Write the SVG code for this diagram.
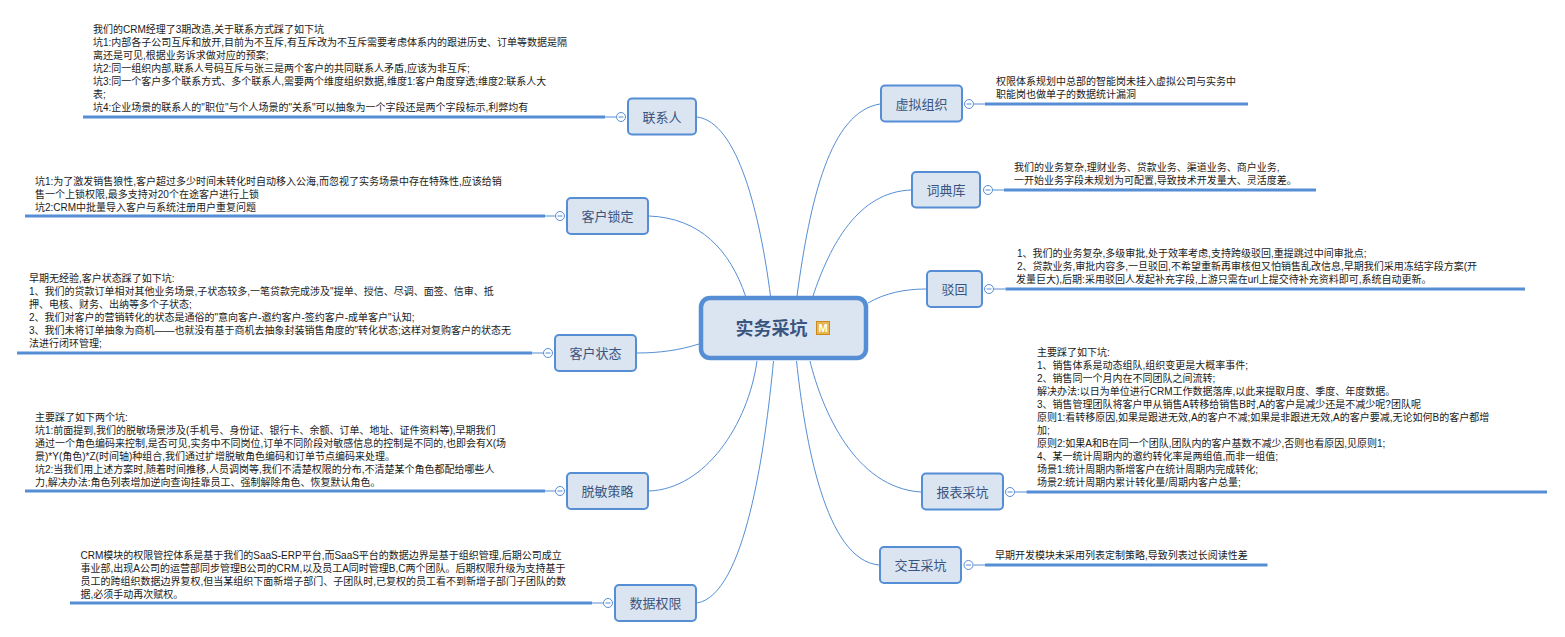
<svg xmlns="http://www.w3.org/2000/svg" width="1565" height="637" viewBox="0 0 1565 637">
<style>
.n{fill:#dbe5f1;stroke:#558ed5;stroke-width:2}
.nt{font:13px "Liberation Sans","Noto Sans CJK SC",sans-serif;fill:#3a5480;text-anchor:middle}
.d{font:10px "Liberation Sans","Noto Sans CJK SC",sans-serif;fill:#1a1a1a}
.c{fill:none;stroke:#558ed5;stroke-width:1}
.b{fill:none;stroke:#558ed5;stroke-width:3}
.o{fill:#fff;stroke:#558ed5;stroke-width:1}
.m{fill:none;stroke:#558ed5;stroke-width:1}
</style>
<rect width="1565" height="637" fill="#fff"/>
<g id="connectors">
<path class="c" d="M770.500,296C760,215 738,122 697,117"/>
<path class="c" d="M745.500,296C730,250 700,218 649,216"/>
<path class="c" d="M797,296C810,200 830,112 880,104"/>
<path class="c" d="M813,296C830,245 858,192 911,190"/>
<path class="c" d="M868,303C885,293 905,289 926,289"/>
<path class="c" d="M699,344C680,350 660,353 637,353"/>
<path class="c" d="M757,361C748,425 705,489 649,491"/>
<path class="c" d="M773.500,361C765,450 745,595 697,603"/>
<path class="c" d="M810,361C822,410 855,488 921,492"/>
<path class="c" d="M796.500,361C805,440 825,560 879,565"/>
</g>
<g id="center"><rect x="701" y="298" width="165" height="60" rx="9" fill="#dbe5f1" stroke="#558ed5" stroke-width="4.500"/>
<text x="771.500" y="335" font-family="Liberation Sans,Noto Sans CJK SC,sans-serif" font-size="18" font-weight="bold" fill="#3a5480" text-anchor="middle">实务采坑</text>
<rect x="816.500" y="321.500" width="13" height="13" fill="#eab64e" stroke="#c98a20"/>
<text x="823" y="332" font-family="Liberation Sans,sans-serif" font-size="11" font-weight="bold" fill="#fff" text-anchor="middle">M</text></g>
<g id="lianxiren"><path class="b" d="M83,117H605"/><path class="m" d="M605,117H616"/><circle class="o" cx="621" cy="117" r="4.500"/><path class="m" d="M618.500,117H623.500"/>
<rect class="n" x="628" y="98.500" width="68" height="36" rx="4"/><text class="nt" x="662" y="122">联系人</text>
<text class="d"><tspan x="93" y="33">我们的CRM经理了3期改造,关于联系方式踩了如下坑</tspan><tspan x="93" y="46">坑1:内部各子公司互斥和放开,目前为不互斥,有互斥改为不互斥需要考虑体系内的跟进历史、订单等数据是隔</tspan><tspan x="93" y="59">离还是可见,根据业务诉求做对应的预案;</tspan><tspan x="93" y="72">坑2:同一组织内部,联系人号码互斥与张三是两个客户的共同联系人矛盾,应该为非互斥;</tspan><tspan x="93" y="85">坑3:同一个客户多个联系方式、多个联系人,需要两个维度组织数据,维度1:客户角度穿透;维度2:联系人大</tspan><tspan x="93" y="98">表;</tspan><tspan x="93" y="111">坑4:企业场景的联系人的"职位"与个人场景的"关系"可以抽象为一个字段还是两个字段标示,利弊均有</tspan></text></g>
<g id="suoding"><path class="b" d="M25,216H545"/><path class="m" d="M545,216H555"/><circle class="o" cx="560" cy="216" r="4.500"/><path class="m" d="M557.500,216H562.500"/>
<rect class="n" x="567" y="198" width="81" height="36" rx="4"/><text class="nt" x="607.500" y="221">客户锁定</text>
<text class="d"><tspan x="35" y="184.500">坑1:为了激发销售狼性,客户超过多少时间未转化时自动移入公海,而忽视了实务场景中存在特殊性,应该给销</tspan><tspan x="35" y="197.500">售一个上锁权限,最多支持对20个在途客户进行上锁</tspan><tspan x="35" y="210.500">坑2:CRM中批量导入客户与系统注册用户重复问题</tspan></text></g>
<g id="zhuangtai"><path class="b" d="M17,353H532"/><path class="m" d="M532,353H543"/><circle class="o" cx="548" cy="353" r="4.500"/><path class="m" d="M545.500,353H550.500"/>
<rect class="n" x="555" y="335" width="81" height="36" rx="4"/><text class="nt" x="595.500" y="358">客户状态</text>
<text class="d"><tspan x="29" y="281.500">早期无经验,客户状态踩了如下坑:</tspan><tspan x="29" y="294.500">1、我们的贷款订单相对其他业务场景,子状态较多,一笔贷款完成涉及"提单、授信、尽调、面签、信审、抵</tspan><tspan x="29" y="307.500">押、电核、财务、出纳等多个子状态;</tspan><tspan x="29" y="320.500">2、我们对客户的营销转化的状态是通俗的"意向客户-邀约客户-签约客户-成单客户"认知;</tspan><tspan x="29" y="333.500">3、我们未将订单抽象为商机——也就没有基于商机去抽象封装销售角度的"转化状态;这样对复购客户的状态无</tspan><tspan x="29" y="346.500">法进行闭环管理;</tspan></text></g>
<g id="tuomin"><path class="b" d="M25,491H545"/><path class="m" d="M545,491H555"/><circle class="o" cx="560" cy="491" r="4.500"/><path class="m" d="M557.500,491H562.500"/>
<rect class="n" x="567" y="473" width="81" height="36" rx="4"/><text class="nt" x="607.500" y="496">脱敏策略</text>
<text class="d"><tspan x="35" y="420.500">主要踩了如下两个坑:</tspan><tspan x="35" y="433.500">坑1:前面提到,我们的脱敏场景涉及(手机号、身份证、银行卡、余额、订单、地址、证件资料等),早期我们</tspan><tspan x="35" y="446.500">通过一个角色编码来控制,是否可见,实务中不同岗位,订单不同阶段对敏感信息的控制是不同的,也即会有X(场</tspan><tspan x="35" y="459.500">景)*Y(角色)*Z(时间轴)种组合,我们通过扩增脱敏角色编码和订单节点编码来处理。</tspan><tspan x="35" y="472.500">坑2:当我们用上述方案时,随着时间推移,人员调岗等,我们不清楚权限的分布,不清楚某个角色都配给哪些人</tspan><tspan x="35" y="485.500">力,解决办法:角色列表增加逆向查询挂靠员工、强制解除角色、恢复默认角色。</tspan></text></g>
<g id="shuju"><path class="b" d="M70,603H592"/><path class="m" d="M592,603H603"/><circle class="o" cx="608" cy="603" r="4.500"/><path class="m" d="M605.500,603H610.500"/>
<rect class="n" x="615" y="585" width="81" height="36" rx="4"/><text class="nt" x="655.500" y="608">数据权限</text>
<text class="d"><tspan x="80.500" y="558.500">CRM模块的权限管控体系是基于我们的SaaS-ERP平台,而SaaS平台的数据边界是基于组织管理,后期公司成立</tspan><tspan x="80.500" y="571.500">事业部,出现A公司的运营部同步管理B公司的CRM,以及员工A同时管理B,C两个团队。后期权限升级为支持基于</tspan><tspan x="80.500" y="584.500">员工的跨组织数据边界复权,但当某组织下面新增子部门、子团队时,已复权的员工看不到新增子部门子团队的数</tspan><tspan x="80.500" y="597.500">据,必须手动再次赋权。</tspan></text></g>
<g id="xuni"><path class="b" d="M985,104H1248"/><path class="m" d="M974,104H985"/><circle class="o" cx="969" cy="104" r="4.500"/><path class="m" d="M966.500,104H971.500"/>
<rect class="n" x="881" y="85.500" width="81" height="36" rx="4"/><text class="nt" x="921.500" y="109">虚拟组织</text>
<text class="d"><tspan x="996" y="85">权限体系规划中总部的智能岗未挂入虚拟公司与实务中</tspan><tspan x="996" y="98">职能岗也做单子的数据统计漏洞</tspan></text></g>
<g id="cidian"><path class="b" d="M1004,190H1316"/><path class="m" d="M993,190H1004"/><circle class="o" cx="988" cy="190" r="4.500"/><path class="m" d="M985.500,190H990.500"/>
<rect class="n" x="912" y="172" width="68" height="35.500" rx="4"/><text class="nt" x="946" y="195">词典库</text>
<text class="d"><tspan x="1014" y="171">我们的业务复杂,理财业务、贷款业务、渠道业务、商户业务,</tspan><tspan x="1014" y="184">一开始业务字段未规划为可配置,导致技术开发量大、灵活度差。</tspan></text></g>
<g id="bohui"><path class="b" d="M1005.500,289H1525"/><path class="m" d="M994,289H1005.500"/><circle class="o" cx="989" cy="289" r="4.500"/><path class="m" d="M986.500,289H991.500"/>
<rect class="n" x="927" y="271" width="55" height="36" rx="4"/><text class="nt" x="954.500" y="294">驳回</text>
<text class="d"><tspan x="1017" y="257">1、我们的业务复杂,多级审批,处于效率考虑,支持跨级驳回,重提跳过中间审批点;</tspan><tspan x="1017" y="270">2、贷款业务,审批内容多,一旦驳回,不希望重新再审核但又怕销售乱改信息,早期我们采用冻结字段方案(开</tspan><tspan x="1016" y="283">发量巨大),后期:采用驳回人发起补充字段,上游只需在url上提交待补充资料即可,系统自动更新。</tspan></text></g>
<g id="baobiao"><path class="b" d="M1026.500,492H1547"/><path class="m" d="M1015,492H1026.500"/><circle class="o" cx="1010" cy="492" r="4.500"/><path class="m" d="M1007.500,492H1012.500"/>
<rect class="n" x="922" y="473.500" width="81" height="36" rx="4"/><text class="nt" x="962.500" y="497">报表采坑</text>
<text class="d"><tspan x="1037" y="356">主要踩了如下坑:</tspan><tspan x="1037" y="369">1、销售体系是动态组队,组织变更是大概率事件;</tspan><tspan x="1037" y="382">2、销售同一个月内在不同团队之间流转;</tspan><tspan x="1037" y="395">解决办法:以日为单位进行CRM工作数据落库,以此来提取月度、季度、年度数据。</tspan><tspan x="1037" y="408">3、销售管理团队将客户甲从销售A转移给销售B时,A的客户是减少还是不减少呢?团队呢</tspan><tspan x="1037" y="421">原则1:看转移原因,如果是跟进无效,A的客户不减;如果是非跟进无效,A的客户要减,无论如何B的客户都增</tspan><tspan x="1037" y="434">加;</tspan><tspan x="1037" y="447">原则2:如果A和B在同一个团队,团队内的客户基数不减少,否则也看原因,见原则1;</tspan><tspan x="1037" y="460">4、某一统计周期内的邀约转化率是两组值,而非一组值;</tspan><tspan x="1037" y="473">场景1:统计周期内新增客户在统计周期内完成转化;</tspan><tspan x="1037" y="486">场景2:统计周期内累计转化量/周期内客户总量;</tspan></text></g>
<g id="jiaohu"><path class="b" d="M985,565H1267.500"/><path class="m" d="M973.500,565H985"/><circle class="o" cx="968.500" cy="565" r="4.500"/><path class="m" d="M966,565H971"/>
<rect class="n" x="880" y="547" width="81" height="36" rx="4"/><text class="nt" x="920.500" y="570">交互采坑</text>
<text class="d"><tspan x="995" y="559">早期开发模块未采用列表定制策略,导致列表过长阅读性差</tspan></text></g>
</svg>
